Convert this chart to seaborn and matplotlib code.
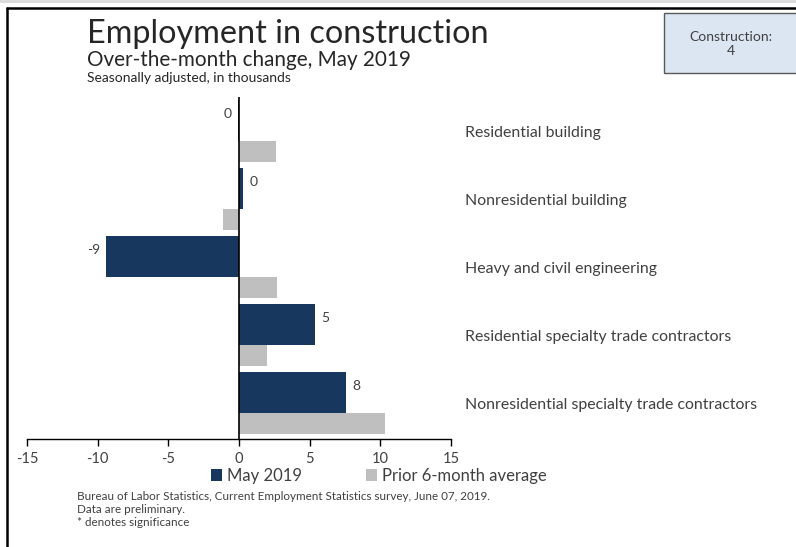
import numpy as np
import pandas as pd
import matplotlib
matplotlib.use("Agg")
import matplotlib.pyplot as plt
import matplotlib.transforms as mtransforms
from matplotlib.patches import Rectangle
from matplotlib.lines import Line2D
import seaborn as sns

# data (thousands, over-the-month change)
industries = ['Residential building', 'Nonresidential building',
              'Heavy and civil engineering', 'Residential specialty trade contractors',
              'Nonresidential specialty trade contractors']
may_2019 = [-0.1, 0.3, -9.4, 5.4, 7.6]
prior_avg = [2.6, -1.1, 2.7, 2.0, 10.3]
may_labels = ['0', '0', '-9', '5', '8']
x_ticks = [-15, -10, -5, 0, 5, 10, 15]

navy = '#17375E'
grey = '#BFBFBF'
txt = '#404040'

sns.set_style('white')
plt.rcParams['font.family'] = ['Lato', 'DejaVu Sans']

W, H = 796, 547
fig = plt.figure(figsize=(W / 100, H / 100), dpi=100)
ax = fig.add_axes([27 / W, 1 - 439 / H, (451 - 27) / W, (439 - 97) / H])

pos = np.arange(len(industries))
df = pd.DataFrame({'industry': industries, 'may': may_2019, 'prior': prior_avg,
                   'y_may': pos - 0.15, 'y_prior': pos + 0.30})

sns.barplot(data=df, x='may', y='y_may', orient='h', native_scale=True,
            width=0.6, color=navy, saturation=1, edgecolor='none',
            label='May 2019', ax=ax)
sns.barplot(data=df, x='prior', y='y_prior', orient='h', native_scale=True,
            width=0.3, color=grey, saturation=1, edgecolor='none',
            label='Prior 6-month average', ax=ax)
handles, labels = ax.get_legend_handles_labels()
if ax.get_legend() is not None:
    ax.get_legend().remove()

ax.set_xlim(-15, 15)
ax.set_ylim(4.53, -0.5)
ax.set_xticks(x_ticks)
ax.set_xticklabels([str(t) for t in x_ticks])
ax.set_yticks([])
ax.set_xlabel('')
ax.set_ylabel('')
for s in ['left', 'right', 'top']:
    ax.spines[s].set_visible(False)
ax.spines['bottom'].set_color('black')
ax.spines['bottom'].set_linewidth(1.0)
ax.tick_params(axis='x', bottom=True, direction='out', length=5, width=1,
               color='black', labelsize=10.5, labelcolor=txt, pad=4.5)
ax.axvline(0, color='black', lw=1.2)

# value labels on the May bars
for i, (v, lab) in enumerate(zip(may_2019, may_labels)):
    if v < 0:
        ax.text(v - 0.45, i - 0.25, lab, ha='right', va='center', fontsize=10, color=txt)
    else:
        ax.text(v + 0.45, i - 0.25, lab, ha='left', va='center', fontsize=10, color=txt)

# category names to the right of the plot
name_tr = mtransforms.blended_transform_factory(fig.transFigure, ax.transData)
for i, name in enumerate(industries):
    ax.text(465 / W, pos[i] + 0.03, name, transform=name_tr, clip_on=False,
            ha='left', va='center', fontsize=11.4, color=txt)

# titles
fig.text(87 / W, 1 - 34 / H, 'Employment in construction', fontsize=23.3, color='#262626', va='center')
fig.text(87 / W, 1 - 59.5 / H, 'Over-the-month change, May 2019', fontsize=14.9, color='#262626', va='center')
fig.text(87 / W, 1 - 78 / H, 'Seasonally adjusted, in thousands', fontsize=10, color='#262626', va='center')

# legend
fig.legend(handles, labels, loc='center', bbox_to_anchor=(379 / W, 1 - 476 / H), ncol=2,
           frameon=False, fontsize=12, handlelength=0.7, handleheight=0.7,
           handletextpad=0.3, columnspacing=3.8, labelcolor=txt)

# footer
foot = ['Bureau of Labor Statistics, Current Employment Statistics survey, June 07, 2019.',
        'Data are preliminary.', '* denotes significance']
for k, line in enumerate(foot):
    fig.text(77 / W, 1 - (496 + 13.5 * k) / H, line, fontsize=8.4, color=txt, va='center')

# top-right box
fig.patches.append(Rectangle((664 / W, 1 - 73 / H), 140 / W, 60 / H, transform=fig.transFigure,
                             facecolor='#DCE6F2', edgecolor='#595959', lw=1, clip_on=False))
fig.text(731 / W, 1 - 44 / H, 'Construction:\n4', ha='center', va='center',
         fontsize=10, color=txt, linespacing=1.25)

# frame lines
fig.add_artist(Line2D([0, 1], [1 - 1 / H, 1 - 1 / H], transform=fig.transFigure, color='#D9D9D9', lw=2))
fig.add_artist(Line2D([7 / W, 1], [1 - 8 / H, 1 - 8 / H], transform=fig.transFigure, color='black', lw=1.8))
fig.add_artist(Line2D([7 / W, 7 / W], [1 - 8 / H, 0], transform=fig.transFigure, color='black', lw=1.8))

fig.savefig('out.png', dpi=100)
